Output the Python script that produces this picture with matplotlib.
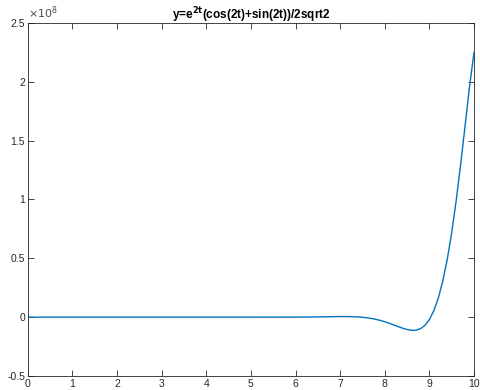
import matplotlib.pyplot as plt

# values (y in units of 1e8)
t = [0, 1, 2, 3, 4, 5, 6, 6.5, 6.8, 7.0, 7.2, 7.4, 7.5, 7.6, 7.7, 7.8, 7.9,
     8.0, 8.1, 8.2, 8.3, 8.4, 8.5, 8.6, 8.7, 8.8, 8.9, 9.0, 9.1, 9.2, 9.3,
     9.4, 9.5, 9.6, 9.7, 9.8, 9.9, 10.0]
y = [0, 0, 0, 0, 0, 0, 0.0002, 0.002, 0.0039, 0.0048, 0.0045, 0.0016, -0.0013,
     -0.0055, -0.0112, -0.0187, -0.028, -0.0391, -0.052, -0.066, -0.0805,
     -0.094, -0.105, -0.112, -0.1115, -0.0986, -0.070, -0.021, 0.0545, 0.162,
     0.306, 0.490, 0.718, 0.989, 1.296, 1.625, 1.959, 2.25]

xticks = list(range(0, 11))
yticks = [-0.5, 0, 0.5, 1, 1.5, 2, 2.5]
ylabels = ['-0.5', '0', '0.5', '1', '1.5', '2', '2.5']

plt.rcParams['font.family'] = ['Liberation Sans', 'DejaVu Sans']
fig, ax = plt.subplots(figsize=(4.8, 3.9), dpi=100)
fig.subplots_adjust(left=0.058, right=0.9875, top=0.941, bottom=0.036)

ax.plot(t, y, color='#0072BD', linewidth=1)
ax.set_xlim(0, 10)
ax.set_ylim(-0.5, 2.5)
ax.set_xticks(xticks)
ax.set_xticklabels([str(v) for v in xticks])
ax.set_yticks(yticks)
ax.set_yticklabels(ylabels)
ax.tick_params(direction='in', top=True, right=True, labelsize=7.5,
               length=4, width=0.6, colors='#262626', pad=2)
for s in ax.spines.values():
    s.set_linewidth(0.6)
    s.set_color('#262626')

ax.text(0, 1.005, r'$\times 10^{8}$', transform=ax.transAxes, fontsize=8,
        color='#4d4d4d', va='bottom', ha='left')
ax.set_title(r'y=e$^{\mathbf{2t}}$(cos(2t)+sin(2t))/2sqrt2', fontsize=8.5,
             fontweight='bold', pad=3)

plt.savefig('out.png')
